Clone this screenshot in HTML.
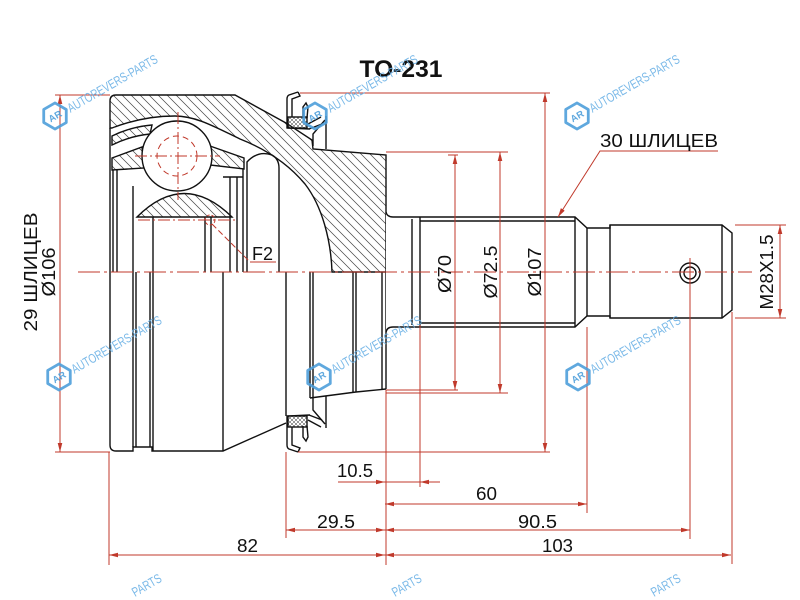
<!DOCTYPE html>
<html><head><meta charset="utf-8"><style>
html,body{margin:0;padding:0;background:#fff;width:800px;height:600px;overflow:hidden;}
svg{display:block;}
text{font-family:"Liberation Sans",Arial,sans-serif;}
</style></head><body>
<svg xmlns="http://www.w3.org/2000/svg" width="800" height="600" viewBox="0 0 800 600" overflow="hidden">
<defs>
<pattern id="h" patternUnits="userSpaceOnUse" width="9" height="9">
<path d="M-1,-1 L10,10 M-1,8 L1,10 M8,-1 L10,1" stroke="#444" stroke-width="0.7" fill="none"/>
</pattern>
<pattern id="x" patternUnits="userSpaceOnUse" width="4" height="4">
<path d="M0,0 L4,4 M4,0 L0,4" stroke="#333" stroke-width="0.5" fill="none"/>
</pattern>
<marker id="a" markerWidth="9" markerHeight="6" refX="9" refY="3" orient="auto-start-reverse" markerUnits="userSpaceOnUse">
<path d="M0,0.7 L9,3 L0,5.3 Z" fill="#c0392b"/>
</marker>
</defs>
<rect width="800" height="600" fill="#fff"/>

<!-- black drawing -->
<g fill="none" stroke="#111" stroke-width="1.4">
<path fill="url(#h)" d="M110,128 L110,101 Q110,95 116,95 L235,95 L286,123 L312,140 L313,149 L386,155 L386,272 L332,272 C331,240 322,206 305,184 C290,166 268,150 240,139 C215,127 196,116 175,116 C152,116 130,121 112,128 Z"/>
<path fill="url(#h)" d="M112,136 Q130,127 152,125 L150,134 Q130,136 112,145 Z"/>
<path fill="url(#h)" d="M112,158 L142,147 L144,168 L112,170 Z"/>
<path fill="url(#h)" d="M210,146 L244,158 L244,169 L210,165 Z"/>
<path fill="url(#h)" d="M137,217 Q184,170 232,217 Z"/>
<circle cx="177" cy="156" r="35" fill="#fff"/>
<path d="M110,128 V272 M113,170 V272 M117,170 V272 M133,186 V272 M153,217 V272 M205,217 V272 M211,217 V272 M230,177 V272 M237,177 V272 M243,169 V272 M223,177 H243"/>
<path d="M247,272 V162 Q258,150 272,155 Q279,159 279,168 V272"/>
<path d="M313,146 V134 L325,120 M326,149 V116"/>

<path d="M110,272 V445 Q110,451 116,451 H133 V447 H152 V451 H223 L286,423"/>
<path d="M133,272 V447 M136,272 V447 M150,272 V447 M153,272 V451 M223,272 V451 M286,272 V416"/>
<path d="M310,272 V398 M313,272 V398 M353,272 V393 M356,272 V392 M382,272 V389 M386,272 V389"/>
<path d="M310,398 L356,392 L386,389"/>
<path d="M313,398 V410 L325,424 M326,396 V428"/>

<path d="M298,92 L289,95 Q287,96 287,99 L287,128 L310,129 M298,92 L300,96 L292,99 L292,117 M303,118 L303,107 L306,103 L308,107 L307,118 M308,124 L321,117 M309,129 L322,124"/>
<rect x="288" y="117" width="19" height="11" fill="url(#x)"/>
<path d="M298,452 L289,449 Q287,448 287,445 L287,416 L310,415 M298,452 L300,448 L292,445 L292,427 M303,426 L303,437 L306,441 L308,437 L307,426 M308,420 L321,427 M309,415 L322,420"/>
<rect x="288" y="416" width="19" height="11" fill="url(#x)"/>

<path fill="#fff" d="M386,212 Q387,217 393,217 H575 L587,228 H610 V225 H722 L732,233 V310 L722,318 H610 V316 H587 L575,327 H393 Q387,327 386,332 Z" stroke="none"/>
<path d="M386,212 Q387,217 393,217 H575 L587,228 H610 V225 H722 L732,233 V310 L722,318 H610 V316 H587 L575,327 H393 Q387,327 386,332"/>
<path d="M412,219 V325 M420,217 V327 M420,221 H575 M420,323 H575 M575,217 V327 M587,228 V316 M610,225 V318 M722,225 V318"/>
<circle cx="690" cy="273" r="10"/>
<circle cx="690" cy="273" r="6"/>
</g>

<!-- red dimensioning -->
<g fill="none" stroke="#c0392b" stroke-width="1">
<path d="M178,112 V200 M135,156 H220" stroke-dasharray="12 3 2 3"/>
<circle cx="177" cy="156" r="20" stroke-dasharray="6 4"/>
<path d="M138,220 H238" stroke-dasharray="12 3 2 3"/>
<circle cx="210" cy="220" r="5" stroke-dasharray="3 2"/>
<path d="M212,224 L250,262" stroke-dasharray="6 3"/>
<path d="M250,262 H276"/>
<path d="M78,272 H752" stroke-dasharray="22 4 3 4"/>

<path d="M55,95 H110 M55,452 H110"/>
<path d="M60,95 V452" marker-start="url(#a)" marker-end="url(#a)"/>
<path d="M300,93 H550 M298,452 H550"/>
<path d="M545,93 V452" marker-start="url(#a)" marker-end="url(#a)"/>
<path d="M386,152 H508 M386,393 H508"/>
<path d="M500,152 V393" marker-start="url(#a)" marker-end="url(#a)"/>
<path d="M448,155 H458 M386,390 H458"/>
<path d="M455,155 V390" marker-start="url(#a)" marker-end="url(#a)"/>
<path d="M735,225 H786 M735,318 H786"/>
<path d="M780,225 V318" marker-start="url(#a)" marker-end="url(#a)"/>

<path d="M109,452 V565 M286,452 V538 M386,390 V565 M420,325 V487 M587,327 V513 M690,258 V539 M732,312 V564"/>

<path d="M338,482 H385" marker-end="url(#a)"/>
<path d="M440,482 H420" marker-end="url(#a)"/>
<path d="M385,482 H420"/>
<path d="M385,504 H587" marker-start="url(#a)" marker-end="url(#a)"/>
<path d="M286,530 H385" marker-start="url(#a)" marker-end="url(#a)"/>
<path d="M385,530 H690" marker-start="url(#a)" marker-end="url(#a)"/>
<path d="M109,555 H385" marker-start="url(#a)" marker-end="url(#a)"/>
<path d="M385,555 H731" marker-start="url(#a)" marker-end="url(#a)"/>
<path d="M718,151 H600 L558,217" marker-end="url(#a)"/>
</g>

<!-- labels -->
<g fill="#111" font-size="18.5">
<text x="401" y="77" font-size="24" font-weight="bold" text-anchor="middle" textLength="83" lengthAdjust="spacingAndGlyphs">TO-231</text>
<text x="600" y="147" textLength="118" lengthAdjust="spacingAndGlyphs">30 ШЛИЦЕВ</text>
<text x="252" y="260" textLength="21" lengthAdjust="spacingAndGlyphs">F2</text>
<text x="337" y="477" textLength="36" lengthAdjust="spacingAndGlyphs">10.5</text>
<text x="476" y="500" textLength="21" lengthAdjust="spacingAndGlyphs">60</text>
<text x="518" y="528" textLength="39" lengthAdjust="spacingAndGlyphs">90.5</text>
<text x="317" y="528" textLength="38" lengthAdjust="spacingAndGlyphs">29.5</text>
<text x="237" y="552" textLength="21" lengthAdjust="spacingAndGlyphs">82</text>
<text x="542" y="552" textLength="31" lengthAdjust="spacingAndGlyphs">103</text>
<text transform="translate(37,272) rotate(-90)" text-anchor="middle" textLength="119" lengthAdjust="spacingAndGlyphs">29 ШЛИЦЕВ</text>
<text transform="translate(55,272) rotate(-90)" text-anchor="middle" textLength="49" lengthAdjust="spacingAndGlyphs">Ø106</text>
<text transform="translate(451,274) rotate(-90)" text-anchor="middle" textLength="38" lengthAdjust="spacingAndGlyphs">Ø70</text>
<text transform="translate(497,272) rotate(-90)" text-anchor="middle" textLength="53" lengthAdjust="spacingAndGlyphs">Ø72.5</text>
<text transform="translate(541,272) rotate(-90)" text-anchor="middle" textLength="49" lengthAdjust="spacingAndGlyphs">Ø107</text>
<text transform="translate(773,272) rotate(-90)" text-anchor="middle" textLength="75" lengthAdjust="spacingAndGlyphs">M28X1.5</text>
</g>

<!-- watermarks -->
<g opacity="0.9">
<g transform="translate(55,116) rotate(-30)"><polygon points="13,0 6.5,11.3 -6.5,11.3 -13,0 -6.5,-11.3 6.5,-11.3" fill="none" stroke="#4d9fdb" stroke-width="2.8" stroke-linejoin="round"/><text x="0" y="3.5" font-size="9.5" text-anchor="middle" fill="#4d9fdb" font-weight="bold">AR</text><text x="15" y="5" font-size="13" fill="#6cb2e6" textLength="102" lengthAdjust="spacingAndGlyphs">AUTOREVERS-PARTS</text></g>
<g transform="translate(315,116) rotate(-30)"><polygon points="13,0 6.5,11.3 -6.5,11.3 -13,0 -6.5,-11.3 6.5,-11.3" fill="none" stroke="#4d9fdb" stroke-width="2.8" stroke-linejoin="round"/><text x="0" y="3.5" font-size="9.5" text-anchor="middle" fill="#4d9fdb" font-weight="bold">AR</text><text x="15" y="5" font-size="13" fill="#6cb2e6" textLength="102" lengthAdjust="spacingAndGlyphs">AUTOREVERS-PARTS</text></g>
<g transform="translate(577,116) rotate(-30)"><polygon points="13,0 6.5,11.3 -6.5,11.3 -13,0 -6.5,-11.3 6.5,-11.3" fill="none" stroke="#4d9fdb" stroke-width="2.8" stroke-linejoin="round"/><text x="0" y="3.5" font-size="9.5" text-anchor="middle" fill="#4d9fdb" font-weight="bold">AR</text><text x="15" y="5" font-size="13" fill="#6cb2e6" textLength="102" lengthAdjust="spacingAndGlyphs">AUTOREVERS-PARTS</text></g>
<g transform="translate(59,377) rotate(-30)"><polygon points="13,0 6.5,11.3 -6.5,11.3 -13,0 -6.5,-11.3 6.5,-11.3" fill="none" stroke="#4d9fdb" stroke-width="2.8" stroke-linejoin="round"/><text x="0" y="3.5" font-size="9.5" text-anchor="middle" fill="#4d9fdb" font-weight="bold">AR</text><text x="15" y="5" font-size="13" fill="#6cb2e6" textLength="102" lengthAdjust="spacingAndGlyphs">AUTOREVERS-PARTS</text></g>
<g transform="translate(319,377) rotate(-30)"><polygon points="13,0 6.5,11.3 -6.5,11.3 -13,0 -6.5,-11.3 6.5,-11.3" fill="none" stroke="#4d9fdb" stroke-width="2.8" stroke-linejoin="round"/><text x="0" y="3.5" font-size="9.5" text-anchor="middle" fill="#4d9fdb" font-weight="bold">AR</text><text x="15" y="5" font-size="13" fill="#6cb2e6" textLength="102" lengthAdjust="spacingAndGlyphs">AUTOREVERS-PARTS</text></g>
<g transform="translate(578,377) rotate(-30)"><polygon points="13,0 6.5,11.3 -6.5,11.3 -13,0 -6.5,-11.3 6.5,-11.3" fill="none" stroke="#4d9fdb" stroke-width="2.8" stroke-linejoin="round"/><text x="0" y="3.5" font-size="9.5" text-anchor="middle" fill="#4d9fdb" font-weight="bold">AR</text><text x="15" y="5" font-size="13" fill="#6cb2e6" textLength="102" lengthAdjust="spacingAndGlyphs">AUTOREVERS-PARTS</text></g>
<text transform="translate(135,597) rotate(-30)" font-size="13" fill="#6cb2e6" textLength="32" lengthAdjust="spacingAndGlyphs">PARTS</text>
<text transform="translate(395,597) rotate(-30)" font-size="13" fill="#6cb2e6" textLength="32" lengthAdjust="spacingAndGlyphs">PARTS</text>
<text transform="translate(654,597) rotate(-30)" font-size="13" fill="#6cb2e6" textLength="32" lengthAdjust="spacingAndGlyphs">PARTS</text>
</g>
</svg>
</body></html>
